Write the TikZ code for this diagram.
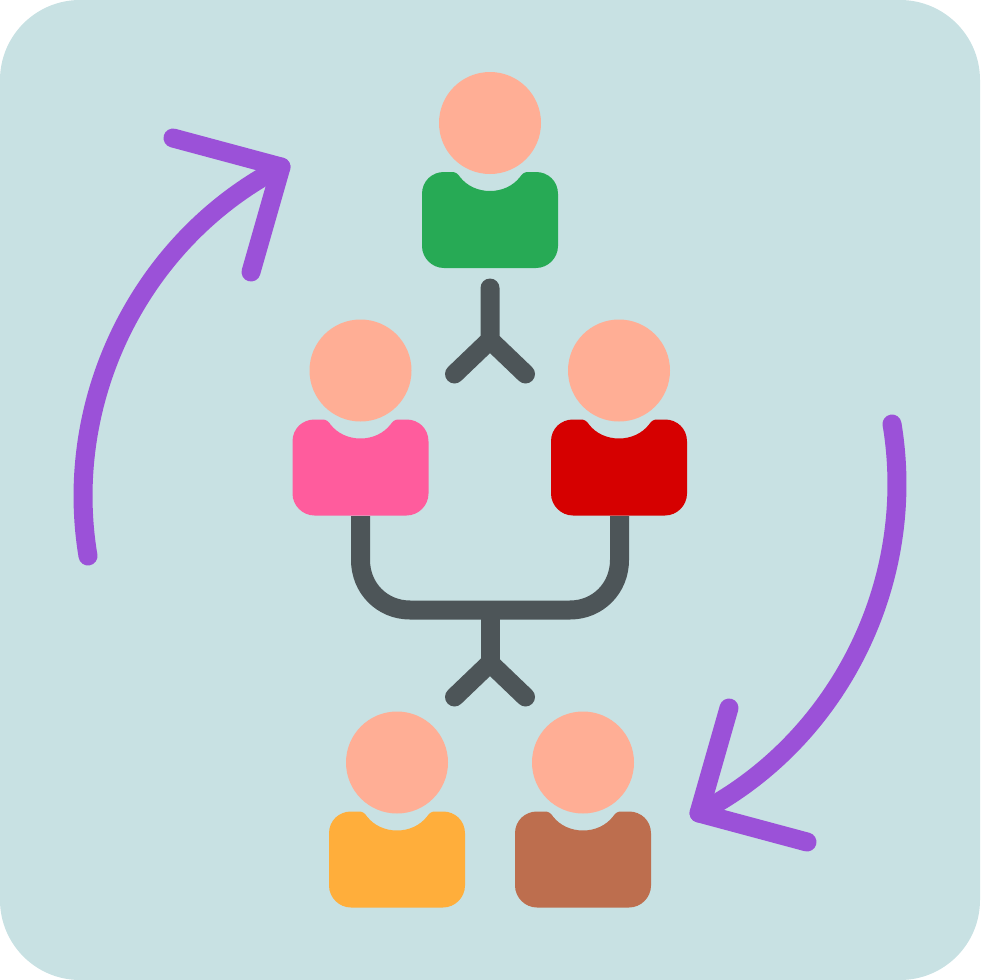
\documentclass[tikz,border=0pt]{standalone}
\definecolor{bgc}{HTML}{C8E1E3}
\definecolor{skin}{HTML}{FFAE95}
\definecolor{cgreen}{HTML}{27AA55}
\definecolor{cpink}{HTML}{FF5C9D}
\definecolor{cred}{HTML}{D60000}
\definecolor{corange}{HTML}{FFAE3B}
\definecolor{cbrown}{HTML}{BD6E4E}
\definecolor{cpurple}{HTML}{9B51D8}
\definecolor{cgray}{HTML}{4D5558}
\tikzset{
  x=1pt,y=-1pt,
  link/.style={draw=cgray,line width=19pt,line cap=round,line join=round},
  cycle arrow/.style={draw=cpurple,line width=19pt,line cap=round,line join=round},
  person/.pic={
    \fill[skin] (0,0) circle[radius=51];
    \fill[#1] (-68,71) .. controls (-68,58) and (-58,49) .. (-46,49)
      -- (-38,49) .. controls (-34,49) and (-32,51) .. (-30,54)
      .. controls (-23,63) and (-12,68) .. (0,68)
      .. controls (12,68) and (23,63) .. (30,54)
      .. controls (32,51) and (34,49) .. (38,49)
      -- (46,49) .. controls (58,49) and (68,58) .. (68,71)
      -- (68,123) .. controls (68,135) and (58,145) .. (46,145)
      -- (-46,145) .. controls (-58,145) and (-68,135) .. (-68,123) -- cycle;
  }
}
\begin{document}
\begin{tikzpicture}
\useasboundingbox (0,0) rectangle (980,980);
\fill[bgc,rounded corners=80pt] (0,0) rectangle (980,980);
% persons
\pic at (490,123) {person=cgreen};
\pic at (360.5,370.5) {person=cpink};
\pic at (619,370.5) {person=cred};
\pic at (397,762.5) {person=corange};
\pic at (583,762.5) {person=cbrown};
% upper connector
\coordinate (a0) at (490,288);
\coordinate (a1) at (490,340);
\coordinate (a2) at (454.5,374);
\coordinate (a3) at (525.5,374);
\draw[link] (a0) -- (a1) (a2) -- (a1) -- (a3);
% lower connector
\coordinate (b1) at (360.5,516);
\coordinate (b2) at (619.5,516);
\coordinate (b3) at (490,610);
\coordinate (b4) at (490,663);
\coordinate (b5) at (454.5,697);
\coordinate (b6) at (525.5,697);
\draw[draw=cgray,line width=19pt,line join=round]
  (b1) -- (360.5,560) .. controls (360.5,588) and (382,610) .. (410,610)
  -- (570,610) .. controls (598,610) and (619.5,588) .. (619.5,560) -- (b2);
\draw[link,line cap=butt] (b3) -- (b4);
\draw[link] (b5) -- (b4) -- (b6);
% cycle arrows
\coordinate (c0) at (88,556);
\coordinate (c1) at (281,167);
\coordinate (c2) at (173,138);
\coordinate (c3) at (251,272);
\draw[cycle arrow] (c0) .. controls (62,400) and (140,240) .. (c1);
\draw[cycle arrow] (c2) -- (c1) -- (c3);
\coordinate (d0) at (892,424);
\coordinate (d1) at (699,813);
\coordinate (d2) at (807,842);
\coordinate (d3) at (729,708);
\draw[cycle arrow] (d0) .. controls (918,580) and (840,740) .. (d1);
\draw[cycle arrow] (d2) -- (d1) -- (d3);
\end{tikzpicture}
\end{document}
